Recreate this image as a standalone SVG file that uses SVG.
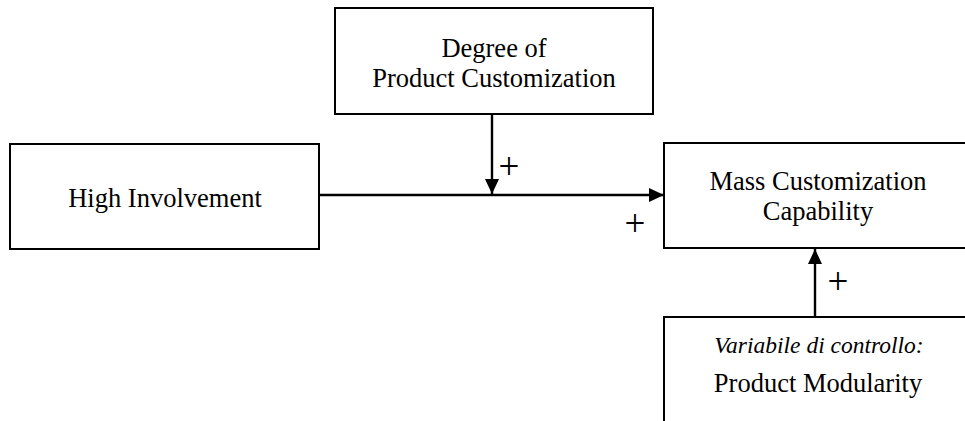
<svg xmlns="http://www.w3.org/2000/svg" width="965" height="421" viewBox="0 0 965 421">
  <style>
    .box { fill: #ffffff; stroke: #000000; stroke-width: 2; }
    .lbl { font-family: "Liberation Serif", "Times New Roman", serif; font-size: 26.5px; fill: #000000; text-anchor: middle; }
    .ital { font-style: italic; font-size: 23.5px; }
    .sign { font-family: "Liberation Serif", "Times New Roman", serif; font-size: 37px; fill: #000000; text-anchor: middle; }
    .edge { stroke: #000000; stroke-width: 2.4; fill: none; }
  </style>
  <defs>
    <marker id="arrow" viewBox="0 0 15 14" refX="15" refY="7" markerWidth="15" markerHeight="14" markerUnits="userSpaceOnUse" orient="auto">
      <path d="M0,0 L15,7 L0,14 Z" fill="#000000"/>
    </marker>
  </defs>

  <rect width="965" height="421" fill="#ffffff"/>

  <g id="degree-of-product-customization">
    <rect class="box" x="335" y="8" width="318" height="106"/>
    <text class="lbl" x="494" y="57">Degree of</text>
    <text class="lbl" x="494" y="87">Product Customization</text>
  </g>

  <g id="high-involvement">
    <rect class="box" x="10" y="144" width="309" height="105"/>
    <text class="lbl" x="165" y="207">High Involvement</text>
  </g>

  <g id="mass-customization-capability">
    <rect class="box" x="664" y="143" width="310" height="105"/>
    <text class="lbl" x="818" y="190">Mass Customization</text>
    <text class="lbl" x="818" y="220">Capability</text>
  </g>

  <g id="product-modularity">
    <rect class="box" x="664" y="317" width="310" height="120"/>
    <text class="lbl ital" x="819" y="353">Variabile di controllo:</text>
    <text class="lbl" x="818" y="392">Product Modularity</text>
  </g>

  <g id="connectors">
    <line class="edge" x1="319" y1="195" x2="664" y2="195" marker-end="url(#arrow)"/>
    <line class="edge" x1="492" y1="114" x2="492" y2="194" marker-end="url(#arrow)"/>
    <line class="edge" x1="815" y1="317" x2="815" y2="249" marker-end="url(#arrow)"/>
    <text class="sign" x="509" y="179">+</text>
    <text class="sign" x="635" y="236">+</text>
    <text class="sign" x="838" y="294">+</text>
  </g>
</svg>
